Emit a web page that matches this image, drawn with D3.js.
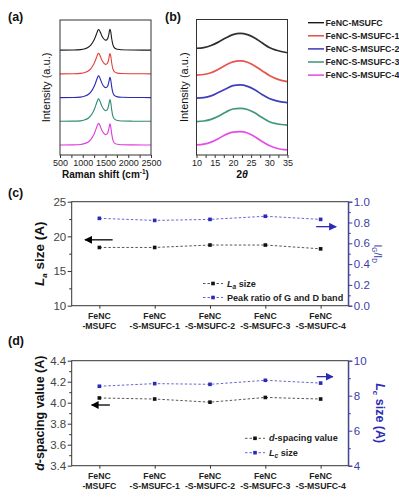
<!DOCTYPE html>
<html><head><meta charset="utf-8">
<script src="https://cdn.jsdelivr.net/npm/d3@7"></script>
<style>
html,body{margin:0;padding:0;background:#fff;}
svg{display:block;font-family:Arial,"Liberation Sans",sans-serif;}
</style></head>
<body>
<svg id="c" width="399" height="500"></svg>
<script>
// ---------- DATA ----------
const seriesNames = ["FeNC-MSUFC","FeNC-S-MSUFC-1","FeNC-S-MSUFC-2","FeNC-S-MSUFC-3","FeNC-S-MSUFC-4"];
const seriesColors = ["#1a1a1a","#e4403a","#2a2ab4","#2f8c72","#e03ce0"];
const stackOffsets = [4,3,2,1,0];

// Raman (a)
const ramanShift = [500,800,950,1050,1120,1180,1230,1270,1300,1325,1345,1365,1390,1420,1460,1500,1530,1555,1575,1590,1600,1615,1635,1660,1700,1760,1850,2100,2500];
const ramanBlack   = [0,.005,.02,.06,.12,.22,.36,.52,.67,.80,.87,.84,.74,.60,.48,.42,.44,.52,.68,.84,.88,.78,.50,.24,.09,.035,.015,.005,0];
const ramanRed     = [0,.005,.02,.06,.12,.22,.37,.53,.68,.81,.87,.83,.72,.58,.46,.40,.42,.50,.66,.82,.86,.76,.48,.22,.08,.03,.012,.005,0];
const ramanBlue    = [0,.006,.02,.07,.13,.24,.39,.56,.72,.85,.92,.88,.76,.61,.48,.42,.44,.52,.67,.82,.86,.75,.47,.22,.08,.03,.012,.005,0];
const ramanGreen   = [0,.006,.02,.07,.13,.25,.40,.58,.75,.88,.95,.91,.79,.64,.51,.45,.47,.56,.72,.88,.92,.80,.50,.23,.09,.035,.015,.005,0];
const ramanMagenta = [0,.006,.02,.07,.13,.24,.39,.56,.72,.85,.92,.88,.77,.62,.50,.44,.46,.54,.70,.85,.89,.78,.49,.23,.08,.03,.012,.005,0];
const ramanTicks = [500,1000,1500,2000,2500];

// XRD (b)
const twoTheta = [10,12,14,16,18,20,22,24,26,28,30,32,35];
const xrdBlack   = [7.85,7.90,8.05,8.30,8.60,8.85,8.95,8.85,8.60,8.25,7.90,7.70,7.52];
const xrdRed     = [5.88,5.92,6.05,6.30,6.60,6.85,6.92,6.82,6.55,6.20,5.85,5.60,5.39];
const xrdBlue    = [4.18,4.22,4.35,4.60,4.85,5.10,5.15,5.05,4.80,4.45,4.15,3.98,3.85];
const xrdGreen   = [2.45,2.50,2.62,2.85,3.15,3.38,3.43,3.35,3.10,2.75,2.45,2.30,2.20];
const xrdMagenta = [0.74,0.80,0.95,1.20,1.50,1.68,1.72,1.62,1.35,1.00,0.70,0.50,0.37];
const xrdTicks = [10,15,20,25,30,35];

// (c) & (d)
const categoriesTop = ["FeNC","FeNC","FeNC","FeNC","FeNC"];
const categoriesBottom = ["-MSUFC","-S-MSUFC-1","-S-MSUFC-2","-S-MSUFC-3","-S-MSUFC-4"];
const laSize = [18.4,18.4,18.75,18.75,18.2];
const peakRatioGD = [0.84,0.82,0.83,0.86,0.83];
const dSpacing = [4.045,4.035,4.005,4.05,4.035];
const lcSize = [8.54,8.69,8.65,8.88,8.72];
const laTicks = [10,15,20,25];
const ratioTicks = [0,0.2,0.4,0.6,0.8,1.0];
const dTicks = [3.4,3.6,3.8,4.0,4.2,4.4];
const lcTicks = [4,6,8,10];

// ---------- DRAW ----------
const svg = d3.select("#c");
const BLUEAX = "#3c3ca8";
const TXT = "#222";

svg.append("defs").html(`
 <marker id="ahK" viewBox="0 0 10 10" refX="9" refY="5" markerWidth="6" markerHeight="6" orient="auto-start-reverse"><path d="M0,0L10,5L0,10z" fill="#000"/></marker>
 <marker id="ahB" viewBox="0 0 10 10" refX="9" refY="5" markerWidth="6" markerHeight="6" orient="auto-start-reverse"><path d="M0,0L10,5L0,10z" fill="#2a2ab4"/></marker>`);

function panelLabel(t,x,y){svg.append("text").attr("x",x).attr("y",y).attr("font-size",12.5).attr("font-weight","bold").attr("fill","#111").text(t);}

function box(g,x0,x1,y0,y1){
  g.append("rect").attr("x",x0).attr("y",y0).attr("width",x1-x0).attr("height",y1-y0).attr("fill","none").attr("stroke","#333").attr("stroke-width",1);
}

// ---- Panel (a)
const A = {l:60,r:151,t:20,b:155};
const xa = d3.scaleLinear().domain([500,2500]).range([A.l,A.r]);
const ya = d3.scaleLinear().domain([-0.42,5.27]).range([A.b,A.t]);
const ga = svg.append("g");
const ramanSeries = [ramanBlack,ramanRed,ramanBlue,ramanGreen,ramanMagenta];
const lineA = d3.line().x(d=>xa(d[0])).y(d=>ya(d[1])).curve(d3.curveMonotoneX);
ramanSeries.forEach((s,i)=>{
  ga.append("path").attr("d",lineA(ramanShift.map((x,j)=>[x,s[j]+stackOffsets[i]])))
    .attr("fill","none").attr("stroke",seriesColors[i]).attr("stroke-width",1.1);
});
box(ga,A.l,A.r,A.t,A.b);
const axA = ga.append("g").attr("transform",`translate(0,${A.b})`)
  .call(d3.axisBottom(xa).tickValues(d3.range(500,2501,250)).tickSize(3).tickFormat(d=>ramanTicks.includes(d)?d:""));
axA.select(".domain").remove();
axA.selectAll("line").attr("stroke","#333");
axA.selectAll("text").attr("font-size",9).attr("fill",TXT).attr("dy","0.85em").attr("y",3);
ga.append("text").attr("x",(A.l+A.r)/2).attr("y",178).attr("text-anchor","middle").attr("font-size",10).attr("font-weight","bold").attr("fill","#111")
  .html('Raman shift (cm<tspan dy="-4" font-size="6.5">-1</tspan><tspan dy="4">)</tspan>');
ga.append("text").attr("transform",`translate(50,${(A.t+A.b)/2}) rotate(-90)`).attr("text-anchor","middle").attr("font-size",11).attr("fill","#111").text("Intensity (a.u.)");

// ---- Panel (b)
const B = {l:196.5,r:287.5,t:19.5,b:155};
const xb = d3.scaleLinear().domain([10,35]).range([B.l,B.r]);
const yb = d3.scaleLinear().domain([0,10]).range([B.b,B.b-136]);
const gb = svg.append("g");
const xrdSeries = [xrdBlack,xrdRed,xrdBlue,xrdGreen,xrdMagenta];
const lineB = d3.line().x(d=>xb(d[0])).y(d=>yb(d[1])).curve(d3.curveMonotoneX);
xrdSeries.forEach((s,i)=>{
  gb.append("path").attr("d",lineB(twoTheta.map((x,j)=>[x,s[j]])))
    .attr("fill","none").attr("stroke",seriesColors[i]).attr("stroke-width",1.7).attr("stroke-opacity",0.9);
});
box(gb,B.l,B.r,B.t,B.b);
const axB = gb.append("g").attr("transform",`translate(0,${B.b})`)
  .call(d3.axisBottom(xb).tickValues(d3.range(10,35.1,2.5)).tickSize(3).tickFormat(d=>xrdTicks.includes(d)?d:""));
axB.select(".domain").remove();
axB.selectAll("line").attr("stroke","#333");
axB.selectAll("text").attr("font-size",9).attr("fill",TXT).attr("dy","0.85em").attr("y",3);
gb.append("text").attr("x",(B.l+B.r)/2).attr("y",178).attr("text-anchor","middle").attr("font-size",10.5).attr("font-weight","bold").attr("fill","#111")
  .html('2<tspan font-style="italic">θ</tspan>');
gb.append("text").attr("transform",`translate(188,${(B.t+B.b)/2}) rotate(-90)`).attr("text-anchor","middle").attr("font-size",11).attr("fill","#111").text("Intensity (a.u.)");

// legend (a)/(b)
const gl = svg.append("g");
seriesNames.forEach((n,i)=>{
  const y = 22.7 + i*13.1;
  gl.append("line").attr("x1",308).attr("x2",324).attr("y1",y).attr("y2",y).attr("stroke",seriesColors[i]).attr("stroke-width",1.4);
  gl.append("text").attr("x",325.5).attr("y",y).attr("dy","0.35em").attr("font-size",8.8).attr("font-weight","bold").attr("fill","#222").text(n);
});

// ---- common for (c),(d)
function catAxis(g,xs,xi,P){
  const ax = g.append("g").attr("transform",`translate(0,${P.b})`).call(d3.axisBottom(xs).tickSize(3).tickFormat(""));
  ax.select(".domain").remove(); ax.selectAll("line").attr("stroke","#333");
  categoriesTop.forEach((c,i)=>{
    const cx = xs(i);
    g.append("text").attr("x",cx).attr("y",P.b+13).attr("text-anchor","middle").attr("font-size",8.7).attr("font-weight","bold").attr("fill","#222").text(c);
    g.append("text").attr("x",cx).attr("y",P.b+23.5).attr("text-anchor","middle").attr("font-size",8.7).attr("font-weight","bold").attr("fill","#222").text(categoriesBottom[i]);
  });
}
function leftAxis(g,y,ticks,minorStep,fmt,P){
  const all = d3.range(ticks[0], ticks[ticks.length-1]+minorStep/2, minorStep);
  const ax = g.append("g").attr("transform",`translate(${P.l},0)`).call(d3.axisLeft(y).tickValues(all).tickSize(4).tickFormat(d=>ticks.some(t=>Math.abs(t-d)<1e-6)?fmt(d):""));
  ax.select(".domain").remove();
  ax.selectAll(".tick").each(function(d){ if(!ticks.some(t=>Math.abs(t-d)<1e-6)) d3.select(this).select("line").attr("x2",-2.5); });
  ax.selectAll("line").attr("stroke","#333");
  ax.selectAll("text").attr("font-size",11.5).attr("fill","#444").attr("x",-5.5);
}
function rightAxis(g,y,ticks,minorStep,fmt,P){
  const all = d3.range(ticks[0], ticks[ticks.length-1]+minorStep/2, minorStep);
  const ax = g.append("g").attr("transform",`translate(${P.r},0)`).call(d3.axisRight(y).tickValues(all).tickSize(4).tickFormat(d=>ticks.some(t=>Math.abs(t-d)<1e-6)?fmt(d):""));
  ax.select(".domain").attr("stroke",BLUEAX);
  ax.selectAll(".tick").each(function(d){ if(!ticks.some(t=>Math.abs(t-d)<1e-6)) d3.select(this).select("line").attr("x2",2.5); });
  ax.selectAll("line").attr("stroke",BLUEAX);
  ax.selectAll("text").attr("font-size",11.5).attr("fill",BLUEAX).attr("x",5.5);
}
function series(g,xs,y,vals,color,lineColor){
  const ln = d3.line().x((d,i)=>xs(i)).y(d=>y(d));
  g.append("path").attr("d",ln(vals)).attr("fill","none").attr("stroke",lineColor).attr("stroke-width",0.9).attr("stroke-dasharray","2.5,2");
  g.selectAll(null).data(vals).enter().append("rect")
    .attr("x",(d,i)=>xs(i)-1.8).attr("y",d=>y(d)-1.8).attr("width",3.6).attr("height",3.6).attr("fill",color);
}
function legendRow(g,x,y,color,lineColor,label){
  g.append("line").attr("x1",x).attr("x2",x+20).attr("y1",y).attr("y2",y).attr("stroke",lineColor).attr("stroke-width",0.9).attr("stroke-dasharray","2.5,2");
  g.append("rect").attr("x",x+10-1.8).attr("y",y-1.8).attr("width",3.6).attr("height",3.6).attr("fill",color);
  g.append("text").attr("x",x+24).attr("y",y).attr("dy","0.35em").attr("font-size",9.1).attr("font-weight","bold").attr("fill","#222").html(label);
}
function arrow(g,x1,y1,x2,y2,id,color){
  g.append("line").attr("x1",x1).attr("y1",y1).attr("x2",x2).attr("y2",y2).attr("stroke",color).attr("stroke-width",1.3).attr("marker-end",`url(#${id})`);
}

// ---- Panel (c)
const C = {l:71.7,r:348.3,t:201.7,b:305.7};
const gc = svg.append("g");
const idx = d3.range(categoriesTop.length);
const xc = d3.scalePoint().domain(idx).range([C.l,C.r]).padding(0.5);
const xci = d3.scaleLinear().domain([-0.5,4.5]).range([C.l,C.r]);
const ycL = d3.scaleLinear().domain([10,25]).range([C.b,C.t]);
const ycR = d3.scaleLinear().domain([0,1]).range([C.b,C.t]);
gc.append("rect").attr("x",C.l).attr("y",C.t).attr("width",C.r-C.l).attr("height",C.b-C.t).attr("fill","none").attr("stroke","#333");
leftAxis(gc,ycL,laTicks,2.5,d=>d,C);
rightAxis(gc,ycR,ratioTicks,0.1,d3.format(".1f"),C);
catAxis(gc,xc,xci,C);
series(gc,xc,ycL,laSize,"#111","#444");
series(gc,xc,ycR,peakRatioGD,"#2a2ab4","#5555cc");
arrow(gc,xci(0.24),ycL(19.5),xci(-0.26),ycL(19.5),"ahK","#000");
arrow(gc,xci(3.92),ycR(0.76),xci(4.28),ycR(0.76),"ahB","#2a2ab4");
legendRow(gc,203,283.5,"#111","#444",'<tspan font-style="italic">L</tspan><tspan font-size="6.5" dy="2.5" font-style="italic">a</tspan><tspan dy="-2.5"> size</tspan>');
legendRow(gc,203,297.5,"#2a2ab4","#5555cc","Peak ratio of G and D band");
gc.append("text").attr("transform",`translate(44,${(C.t+C.b)/2}) rotate(-90)`).attr("text-anchor","middle").attr("font-size",13.5).attr("font-weight","bold").attr("fill","#111")
  .html('<tspan font-style="italic">L</tspan><tspan font-size="8" dy="3" font-style="italic">a</tspan><tspan dy="-3"> size (A)</tspan>');
gc.append("text").attr("transform",`translate(374,${(C.t+C.b)/2}) rotate(90)`).attr("text-anchor","middle").attr("font-size",10.5).attr("fill",BLUEAX)
  .html('I<tspan font-size="6.5" dy="2.5">G</tspan><tspan dy="-2.5">/I</tspan><tspan font-size="6.5" dy="2.5">D</tspan>');

// ---- Panel (d)
const D = {l:71.7,r:348.3,t:360.7,b:465.7};
const gd = svg.append("g");
const xd = d3.scalePoint().domain(idx).range([D.l,D.r]).padding(0.5);
const xdi = d3.scaleLinear().domain([-0.5,4.5]).range([D.l,D.r]);
const ydL = d3.scaleLinear().domain([3.4,4.4]).range([D.b,D.t]);
const ydR = d3.scaleLinear().domain([4,10]).range([D.b,D.t]);
gd.append("rect").attr("x",D.l).attr("y",D.t).attr("width",D.r-D.l).attr("height",D.b-D.t).attr("fill","none").attr("stroke","#333");
leftAxis(gd,ydL,dTicks,0.1,d3.format(".1f"),D);
rightAxis(gd,ydR,lcTicks,1,d=>d,D);
catAxis(gd,xd,xdi,D);
series(gd,xd,ydL,dSpacing,"#111","#444");
series(gd,xd,ydR,lcSize,"#2a2ab4","#5555cc");
arrow(gd,xdi(0.19),ydL(3.978),xdi(-0.14),ydL(3.978),"ahK","#000");
arrow(gd,xdi(3.93),ydR(9.09),xdi(4.22),ydR(9.09),"ahB","#2a2ab4");
legendRow(gd,245,438.3,"#111","#444",'<tspan font-style="italic">d</tspan>-spacing value');
legendRow(gd,245,452.7,"#2a2ab4","#5555cc",'<tspan font-style="italic">L</tspan><tspan font-size="6.5" dy="2.5" font-style="italic">c</tspan><tspan dy="-2.5"> size</tspan>');
gd.append("text").attr("transform",`translate(44,${(D.t+D.b)/2}) rotate(-90)`).attr("text-anchor","middle").attr("font-size",12.5).attr("font-weight","bold").attr("fill","#111")
  .html('<tspan font-style="italic">d</tspan>-spacing value (A)');
gd.append("text").attr("transform",`translate(376,${(D.t+D.b)/2}) rotate(90)`).attr("text-anchor","middle").attr("font-size",12.5).attr("font-weight","bold").attr("fill","#2a2ab4")
  .html('<tspan font-style="italic">L</tspan><tspan font-size="8" dy="3" font-style="italic">c</tspan><tspan dy="-3"> size (A)</tspan>');

// panel labels
panelLabel("(a)",8,20.5);
panelLabel("(b)",165,20.5);
panelLabel("(c)",8,197);
panelLabel("(d)",8,345);
</script>
</body></html>
